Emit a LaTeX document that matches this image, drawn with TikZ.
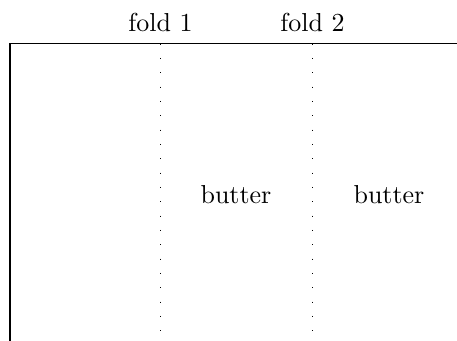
\documentclass[tikz,border=0pt]{standalone}
\begin{document}
\begin{tikzpicture}[x=0.385pt,y=-0.385pt,
  edge/.style={line width=0.4pt},
  foldline/.style={line width=0.4pt, dash pattern=on 0.4pt off 5.12pt},
  lbl/.style={inner sep=0pt}]
\useasboundingbox (0,0) rectangle (457,341);
\coordinate (tl) at (10,43.5);
\coordinate (tr) at (457,43.5);
\coordinate (bl) at (10,341);
\draw[edge] (tr) -- (tl) -- (bl);
\coordinate (f1t) at (160.5,43.5);
\coordinate (f1b) at (160.5,338);
\coordinate (f2t) at (312.5,43.5);
\coordinate (f2b) at (312.5,338);
\draw[foldline] (f1t) -- (f1b);
\draw[foldline] (f2t) -- (f2b);
\node[lbl] (fold1) at (160.5,22) {fold 1};
\node[lbl] (fold2) at (312.5,22) {fold 2};
\node[lbl] (butter1) at (236,195) {butter};
\node[lbl] (butter2) at (389,195) {butter};
\end{tikzpicture}
\end{document}
